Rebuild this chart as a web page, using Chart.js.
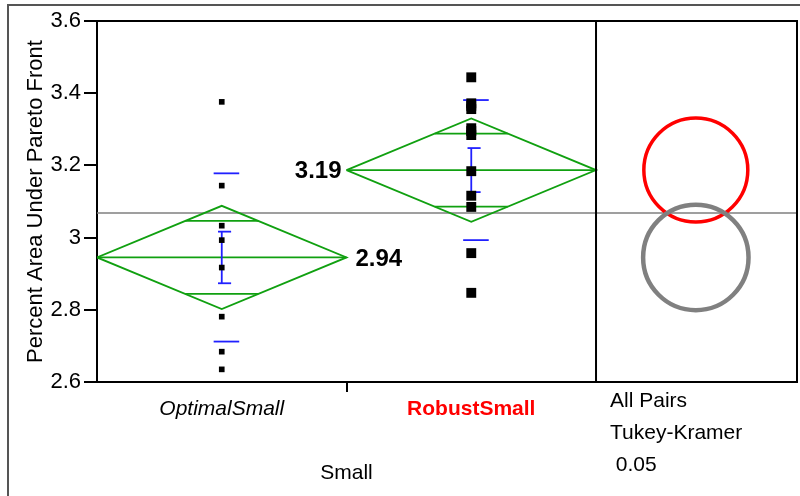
<!DOCTYPE html>
<html>
<head>
<meta charset="utf-8">
<script src="https://cdn.jsdelivr.net/npm/chart.js@4.4.1/dist/chart.umd.min.js"></script>
<style>
html, body { margin: 0; padding: 0; background: #fff; }
#wrap { width: 800px; height: 496px; position: relative; }
</style>
</head>
<body>
<div id="wrap"><canvas id="oneway"></canvas></div>
<script>
// values
const groups = ['OptimalSmall', 'RobustSmall'];
const optimalValues = [3.376, 3.144, 3.033, 2.993, 2.917, 2.781, 2.684, 2.635];
const robustValues = [3.444, 3.372, 3.365, 3.356, 3.303, 3.295, 3.284, 3.184, 3.116, 3.085, 2.957, 2.847];
const groupMeans = [2.945, 3.187];
const meanLabels = ['2.94', '3.19'];
const ciHalf = [0.143, 0.143];
const seHalf = [0.0715, 0.061];
const sdHalf = [0.233, 0.194];
const circleRadius = [0.146, 0.144];
const grandMean = 3.068;
const yTicks = [2.6, 2.8, 3, 3.2, 3.4, 3.6];
const panelText = ['All Pairs', 'Tukey-Kramer', ' 0.05'];
const xTitle = 'Small';
const yTitle = 'Percent Area Under Pareto Front';

// layout of the x scale: groups at 1 and 3, compare panel after 4
const groupX = [1, 3];
const divX = 4;
const xMax = 5.611;
const circleX = 4.8;
const FONT = '"Liberation Sans", Arial, sans-serif';
const green = '#10a010';
const blue = '#2020ff';
const circleColors = ['#808080', '#ff0000'];

function seg(pts, color, width) {
    return { type: 'line', data: pts, borderColor: color, borderWidth: width, pointRadius: 0,
        showLine: true, fill: false, tension: 0 };
}

let datasets = [];
// raw points
[optimalValues, robustValues].forEach((vals, g) => {
    datasets.push({
        type: 'scatter',
        data: vals.map(v => ({ x: groupX[g], y: v })),
        pointStyle: 'rect',
        pointRadius: g == 1 ? 7 : 4,
        pointBackgroundColor: '#000',
        pointBorderWidth: 0
    });
});
// std dev lines and std error bars
for (let g = 0; g < groups.length; g++) {
    let cx = groupX[g], m = groupMeans[g];
    datasets.push(seg([{ x: cx - 0.065, y: m + sdHalf[g] }, { x: cx + 0.14, y: m + sdHalf[g] }], blue, 1.8));
    datasets.push(seg([{ x: cx - 0.065, y: m - sdHalf[g] }, { x: cx + 0.14, y: m - sdHalf[g] }], blue, 1.8));
    datasets.push(seg([{ x: cx, y: m - seHalf[g] }, { x: cx, y: m + seHalf[g] }], blue, 1.8));
    datasets.push(seg([{ x: cx - 0.03, y: m + seHalf[g] }, { x: cx + 0.075, y: m + seHalf[g] }], blue, 1.8));
    datasets.push(seg([{ x: cx - 0.03, y: m - seHalf[g] }, { x: cx + 0.075, y: m - seHalf[g] }], blue, 1.8));
}
// means diamonds
for (let g = 0; g < groups.length; g++) {
    let cx = groupX[g], m = groupMeans[g], ci = ciHalf[g];
    datasets.push(seg([
        { x: cx - 1, y: m }, { x: cx, y: m + ci }, { x: cx + 1, y: m },
        { x: cx, y: m - ci }, { x: cx - 1, y: m }
    ], green, 1.8));
    datasets.push(seg([{ x: cx - 1, y: m }, { x: cx + 1, y: m }], green, 1.8));
    let d = 1 - Math.SQRT1_2, h = ci * Math.SQRT1_2;
    datasets.push(seg([{ x: cx - d, y: m + h }, { x: cx + d, y: m + h }], green, 1.8));
    datasets.push(seg([{ x: cx - d, y: m - h }, { x: cx + d, y: m - h }], green, 1.8));
}
// comparison circles
for (let g = 0; g < groups.length; g++) {
    datasets.push({
        type: 'scatter',
        data: [{ x: circleX, y: groupMeans[g] }],
        pointStyle: 'circle',
        pointBackgroundColor: 'rgba(0,0,0,0)',
        pointBorderColor: circleColors[g],
        pointBorderWidth: g == 1 ? 3.5 : 4.5,
        pointRadius: ctx => {
            let ys = ctx.chart.scales.y;
            return Math.abs(ys.getPixelForValue(groupMeans[g]) - ys.getPixelForValue(groupMeans[g] + circleRadius[g]));
        }
    });
}
// grand mean
datasets.push(seg([{ x: 0, y: grandMean }, { x: xMax, y: grandMean }], '#7f7f7f', 1.5));

const extras = {
    id: 'extras',
    afterDraw(chart) {
        const ctx = chart.ctx, a = chart.chartArea;
        const xs = chart.scales.x, ys = chart.scales.y;
        ctx.save();
        // outer frame
        ctx.strokeStyle = '#555';
        ctx.lineWidth = 2;
        ctx.beginPath();
        ctx.moveTo(8, 496); ctx.lineTo(8, 5); ctx.lineTo(800, 5);
        ctx.stroke();
        // plot frame and divider
        ctx.strokeStyle = '#000';
        ctx.beginPath();
        ctx.moveTo(a.left, a.top); ctx.lineTo(a.right, a.top); ctx.lineTo(a.right, a.bottom);
        let dx = xs.getPixelForValue(divX);
        ctx.moveTo(dx, a.top); ctx.lineTo(dx, a.bottom);
        ctx.stroke();
        // mean labels
        let mid = xs.getPixelForValue(2);
        ctx.fillStyle = '#000';
        ctx.textBaseline = 'middle';
        ctx.font = 'bold 24px ' + FONT;
        ctx.textAlign = 'right';
        ctx.fillText(meanLabels[1], mid - 5, ys.getPixelForValue(groupMeans[1]) + 1);
        ctx.textAlign = 'left';
        ctx.fillText(meanLabels[0], mid + 9, ys.getPixelForValue(groupMeans[0]) + 2);
        // x title under the group divider
        ctx.font = '21px ' + FONT;
        ctx.textAlign = 'center';
        ctx.fillText(xTitle, mid, 473);
        // compare-panel caption
        ctx.textAlign = 'left';
        panelText.forEach((t, i) => ctx.fillText(t, dx + 14, 401 + i * 32));
        ctx.restore();
    }
};

new Chart(document.getElementById('oneway'), {
    type: 'scatter',
    data: { datasets: datasets },
    options: {
        responsive: true,
        maintainAspectRatio: false,
        animation: false,
        events: [],
        layout: { autoPadding: false, padding: { top: 21, right: 3, left: 0, bottom: 0 } },
        plugins: { legend: { display: false }, tooltip: { enabled: false } },
        scales: {
            x: {
                type: 'linear',
                min: 0,
                max: xMax,
                afterBuildTicks: s => { s.ticks = [1, 2, 3].map(v => ({ value: v })); },
                afterFit: s => { s.height = 114; },
                grid: {
                    drawOnChartArea: false,
                    tickLength: 10,
                    lineWidth: 2,
                    color: c => (c.tick && c.tick.value == 2) ? '#000' : 'rgba(0,0,0,0)'
                },
                border: { color: '#000', width: 2 },
                ticks: {
                    autoSkip: false,
                    maxRotation: 0,
                    padding: 5,
                    callback: v => { let i = groupX.indexOf(v); return i < 0 ? '' : groups[i]; },
                    color: c => (c.tick && c.tick.value == groupX[1]) ? '#ff0000' : '#000',
                    font: c => (c.tick && c.tick.value == groupX[1])
                        ? { family: FONT, size: 21, weight: 'bold' }
                        : { family: FONT, size: 21, style: 'italic' }
                }
            },
            y: {
                min: 2.6,
                max: 3.6,
                afterBuildTicks: s => { s.ticks = yTicks.map(v => ({ value: v })); },
                afterFit: s => { s.width = 97; },
                grid: { drawOnChartArea: false, tickLength: 13, lineWidth: 2, color: '#000' },
                border: { color: '#000', width: 2 },
                ticks: {
                    padding: 3,
                    color: '#000',
                    font: { family: FONT, size: 22 },
                    callback: v => String(+v.toFixed(1))
                },
                title: {
                    display: true,
                    text: yTitle,
                    color: '#000',
                    font: { family: FONT, size: 22 },
                    padding: { top: 23, bottom: 0 }
                }
            }
        }
    },
    plugins: [extras]
});
</script>
</body>
</html>
